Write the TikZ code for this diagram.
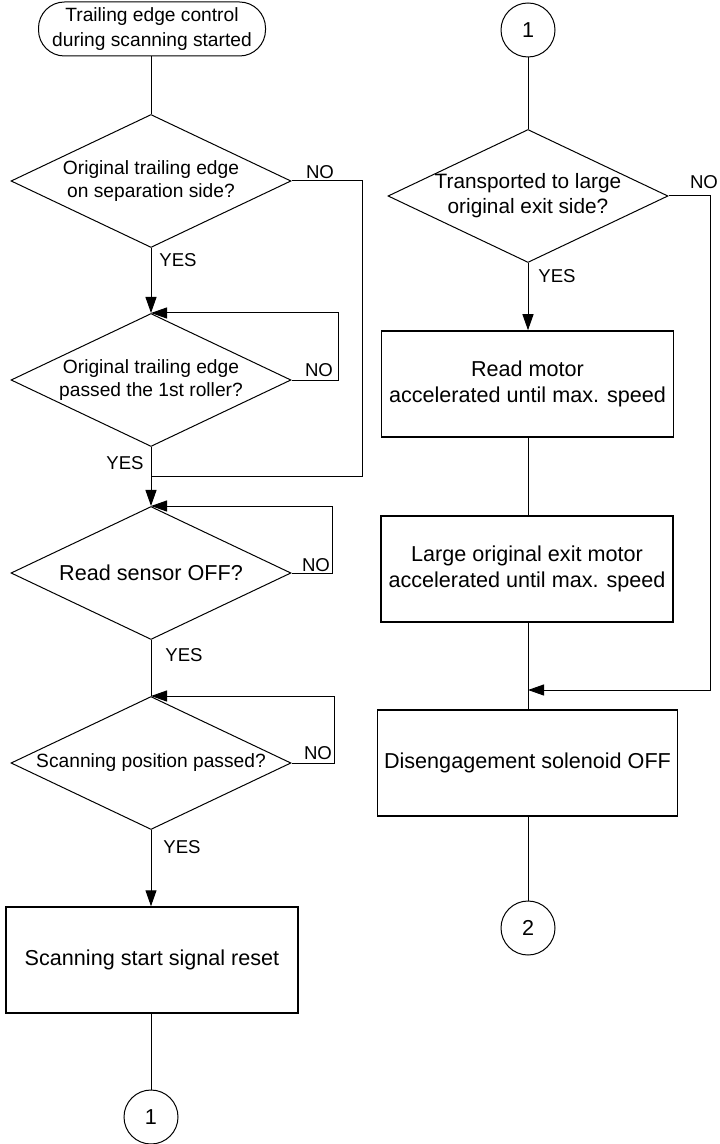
\documentclass[tikz,border=0pt]{standalone}
\usepackage{fontspec}
\setmainfont{Liberation Sans}
\usepackage{tikz}
\usetikzlibrary{arrows.meta,positioning,calc,shapes.geometric}

\begin{document}
\begin{tikzpicture}[x=0.5pt,y=-0.5pt,
    line width=0.5pt,
    term/.style={draw,rounded corners=13pt,minimum width=113.5pt,minimum height=27pt,align=center,inner sep=0pt,font=\fontsize{9.6}{12.4}\selectfont},
    dec/.style={draw,diamond,aspect=2.1,minimum width=140pt,minimum height=66.5pt,inner sep=0pt,align=center,font=\fontsize{9.6}{11.7}\selectfont},
    proc/.style={draw,line width=0.75pt,minimum width=146pt,minimum height=53pt,align=center,font=\fontsize{10.8}{13.3}\selectfont},
    conn/.style={draw,circle,minimum size=27pt,inner sep=0pt,font=\fontsize{10.8}{13}\selectfont},
    lbl/.style={inner sep=0pt,font=\fontsize{9.3}{11}\selectfont},
    arr/.style={-{Triangle[length=8pt,width=5.5pt]}}]
    \useasboundingbox (0,0) rectangle (719,1144);
    % left column
    \node[term] (start) at (152,29) {Trailing edge control\\during scanning started};
    \node[dec] (sepside) at (151,181) {Original trailing edge\\on separation side?};
    \node[dec] (roller) at (151,380) {Original trailing edge\\passed the 1st roller?};
    \node[dec,font=\fontsize{10.8}{13}\selectfont] (rdsens) at (151,573) {Read sensor OFF?};
    \node[dec] (scanpos) at (151,763) {Scanning position passed?};
    \node[proc] (reset) at (152,960) {Scanning start signal reset};
    \node[conn] (outone) at (151,1117) {1};
    % right column
    \node[conn] (inone) at (528,30) {1};
    \node[dec,font=\fontsize{10.4}{12.4}\selectfont] (largeexit) at (528,196) {Transported to large\\original exit side?};
    \node[proc] (readmot) at (527.5,384) {Read motor\\accelerated until max. speed};
    \node[proc] (exitmot) at (527,569) {Large original exit motor\\accelerated until max. speed};
    \node[proc] (solenoid) at (527.5,763) {Disengagement solenoid OFF};
    \node[conn] (outtwo) at (528,928) {2};
    \coordinate (joinL) at (151,476);
    \coordinate (joinR) at (528,690);

    \draw (start.south -| sepside.north) -- (sepside.north);
    \draw[arr] (sepside) -- (roller);
    \draw (sepside.east) -- (362,181) |- (joinL);
    \draw[arr] (roller.east) -- ++(47,0) |- (roller.north);
    \draw[arr] (roller) -- (rdsens);
    \draw[arr] (rdsens.east) -- ++(41,0) |- (rdsens.north);
    \draw (rdsens) -- (scanpos);
    \draw[arr] (scanpos.east) -- ++(43,0) |- (scanpos.north);
    \draw[arr] (scanpos.south) -- (scanpos.south |- reset.north);
    \draw (reset.south -| outone.north) -- (outone.north);

    \draw (inone) -- (largeexit);
    \draw[arr] (largeexit.south) -- (largeexit.south |- readmot.north);
    \draw (readmot.south -| inone.south) -- (exitmot.north -| inone.south);
    \draw (exitmot.south -| inone.south) -- (solenoid.north -| inone.south);
    \draw[arr] (largeexit.east) -- ++(42,0) |- (joinR);
    \draw (solenoid.south -| outtwo.north) -- (outtwo.north);

    \node[lbl] (no1) at (320,172) {NO};
    \node[lbl] (yes1) at (178,260) {YES};
    \node[lbl] (no2) at (319,370) {NO};
    \node[lbl] (yes2) at (125,463) {YES};
    \node[lbl] (no3) at (316,565) {NO};
    \node[lbl] (yes3) at (184,655) {YES};
    \node[lbl] (no4) at (318,753) {NO};
    \node[lbl] (yes4) at (182,847) {YES};
    \node[lbl] (no5) at (704,182) {NO};
    \node[lbl] (yes5) at (557,276) {YES};
\end{tikzpicture}
\end{document}
